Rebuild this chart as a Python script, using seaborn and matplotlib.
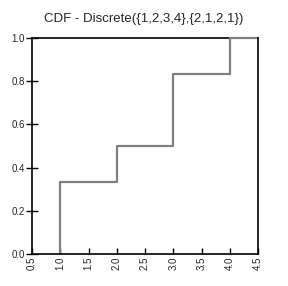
import numpy as np
import pandas as pd
import matplotlib
matplotlib.use("Agg")
import matplotlib.pyplot as plt
import seaborn as sns

values = [1, 2, 3, 4]
weights = [2, 1, 2, 1]
x_min, x_max = 0.5, 4.5
x_ticks = [0.5, 1.0, 1.5, 2.0, 2.5, 3.0, 3.5, 4.0, 4.5]
y_ticks = [0.0, 0.2, 0.4, 0.6, 0.8, 1.0]

cdf = np.cumsum(weights) / np.sum(weights)
df = pd.DataFrame({
    "x": [values[0]] + values + [x_max],
    "y": [0.0] + list(cdf) + [1.0],
})

sns.set_style("white", {"xtick.bottom": True, "ytick.left": True})
plt.rcParams['font.family'] = ['Liberation Sans', 'DejaVu Sans']

fig = plt.figure(figsize=(2.88, 2.86), dpi=100)
ax = fig.add_axes([32 / 288, 32 / 286, 226 / 288, 216 / 286])

sns.lineplot(data=df, x="x", y="y", drawstyle="steps-post", color="#808080",
             linewidth=1.6, ax=ax, zorder=5, clip_on=False, estimator=None,
             sort=False, solid_capstyle="butt")

ax.set_xlim(x_min, x_max)
ax.set_ylim(0, 1)
ax.set_xticks(x_ticks)
ax.set_xticklabels([f"{t:.1f}" for t in x_ticks], rotation=90, fontsize=7)
ax.set_yticks(y_ticks)
ax.set_yticklabels([f"{t:.1f}" for t in y_ticks], fontsize=7)
ax.tick_params(axis="x", bottom=True, direction="in", length=4, width=1, pad=2, color="black")
ax.tick_params(axis="y", left=True, direction="inout", length=8, width=1, pad=1, color="black")
ax.set_xlabel("")
ax.set_ylabel("")
for s in ax.spines.values():
    s.set_color("black")
    s.set_linewidth(1.2)
    s.set_visible(True)
    s.set_zorder(6)
ax.spines["top"].set_zorder(4)

fig.suptitle("CDF - Discrete({1,2,3,4},{2,1,2,1})", fontsize=9.5, y=0.955)

fig.savefig("out.png", dpi=100, facecolor="white")
